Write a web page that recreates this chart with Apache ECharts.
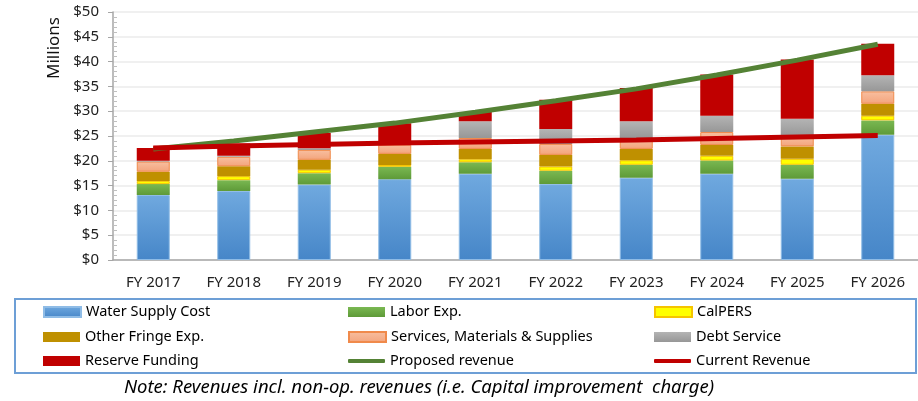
<!DOCTYPE html>
<html>
<head>
<meta charset="utf-8">
<script src="https://cdn.jsdelivr.net/npm/echarts@6/dist/echarts.min.js"></script>
<style>
html,body{margin:0;padding:0;background:#fff;}
#main{width:918px;height:401px;}
</style>
</head>
<body>
<div id="main"></div>
<script>
// categories
var years = ['FY 2017','FY 2018','FY 2019','FY 2020','FY 2021','FY 2022','FY 2023','FY 2024','FY 2025','FY 2026'];
// stacked cost pieces, $ millions
var waterSupply = [13.1, 13.9, 15.2, 16.3, 17.4, 15.3, 16.6, 17.4, 16.4, 25.25];
var laborExp    = [2.2, 2.2, 2.3, 2.5, 2.3, 2.7, 2.6, 2.65, 2.8, 2.9];
var calpers     = [0.65, 0.8, 0.7, 0.35, 0.6, 0.85, 0.9, 0.95, 1.2, 0.95];
var otherFringe = [1.85, 2.0, 2.0, 2.25, 2.1, 2.35, 2.3, 2.2, 2.5, 2.4];
var services    = [2.05, 1.9, 2.0, 1.85, 2.2, 2.2, 2.2, 2.6, 2.0, 2.5];
var debtService = [0.15, 0.2, 0.35, 0.3, 3.35, 3.0, 3.35, 3.3, 3.6, 3.25];
var reserveFund = [2.6, 2.5, 3.05, 4.0, 1.9, 5.9, 6.75, 8.3, 11.9, 6.35];
// revenue lines
var proposedRev = [22.4, 24.0, 25.8, 27.6, 29.8, 32.1, 34.5, 37.3, 40.3, 43.5];
var currentRev  = [22.6, 23.0, 23.3, 23.6, 23.8, 24.0, 24.2, 24.5, 24.8, 25.1];
// y ticks
var yMin = 0, yMax = 50, yStep = 5;

var chart = echarts.init(document.getElementById('main'));

function grad(top, bottom) {
	return new echarts.graphic.LinearGradient(0, 0, 0, 1, [
		{offset: 0, color: top},
		{offset: 1, color: bottom}
	]);
}

function barSeries(name, data, color, border) {
	return {
		name: name,
		type: 'bar',
		stack: 'cost',
		barWidth: 33,
		data: data,
		itemStyle: {
			color: color,
			borderColor: border || 'transparent',
			borderWidth: border ? 1 : 0
		}
	};
}

var font = 'Noto Sans';
var legendText = {fontFamily: font, fontSize: 14.5, color: '#000', lineHeight: 16};

// legend layout: 3 columns x 3 rows
var legendItems = [
	{name: 'Water Supply Cost', col: 0, row: 0},
	{name: 'Labor Exp.', col: 1, row: 0},
	{name: 'CalPERS', col: 2, row: 0},
	{name: 'Other Fringe Exp.', col: 0, row: 1},
	{name: 'Services, Materials & Supplies', col: 1, row: 1},
	{name: 'Debt Service', col: 2, row: 1},
	{name: 'Reserve Funding', col: 0, row: 2},
	{name: 'Proposed revenue', col: 1, row: 2, line: true},
	{name: 'Current Revenue', col: 2, row: 2, line: true}
];
var colX = [43, 348, 654];
var rowY = [304, 329, 353];
var legends = legendItems.map(function(it) {
	return {
		data: [{name: it.name, icon: it.line ? 'roundRect' : 'rect'}],
		left: colX[it.col],
		top: rowY[it.row],
		padding: 0,
		itemWidth: 37,
		itemHeight: it.line ? 4 : 10,
		itemGap: 4,
		selectedMode: false,
		textStyle: legendText
	};
});

var option = {
	backgroundColor: '#fff',
	animation: false,
	grid: {left: 113, right: 0, top: 12, bottom: 141},
	legend: legends,
	xAxis: {
		type: 'category',
		data: years,
		axisLine: {lineStyle: {color: '#a6a6a6', width: 1.5}},
		axisTick: {show: false},
		axisLabel: {fontFamily: font, fontSize: 15, color: '#222', margin: 15}
	},
	yAxis: [{
		type: 'value',
		min: yMin, max: yMax, interval: yStep,
		axisLine: {show: true, lineStyle: {color: '#a6a6a6', width: 1.5}},
		axisTick: {show: true, length: 5, lineStyle: {color: '#a6a6a6'}},
		axisLabel: {fontFamily: font, fontSize: 15, color: '#222', margin: 14,
			formatter: function(v) { return '$' + v; }},
		splitLine: {lineStyle: {color: '#ebebeb', width: 1.5}}
	}, {
		type: 'value',
		min: yMin, max: yMax, interval: yStep,
		position: 'left',
		axisLine: {show: false},
		axisTick: {show: false, inside: true},
		axisLabel: {show: false},
		splitLine: {show: false},
		minorTick: {show: true, splitNumber: 5, length: 4, lineStyle: {color: '#bfbfbf'}}
	}],
	series: [
		barSeries('Water Supply Cost', waterSupply, grad('#70a9df', '#4686c8'), '#8fbce6'),
		barSeries('Labor Exp.', laborExp, grad('#7ab852', '#5e9a38')),
		barSeries('CalPERS', calpers, '#ffff00', '#f5c400'),
		barSeries('Other Fringe Exp.', otherFringe, '#bf9000'),
		barSeries('Services, Materials & Supplies', services, grad('#f8bfa0', '#f3a47c'), '#f08a4b'),
		barSeries('Debt Service', debtService, grad('#b4b4b4', '#979797')),
		barSeries('Reserve Funding', reserveFund, '#c00000'),
		{
			name: 'Proposed revenue', type: 'line', data: proposedRev, z: 5,
			symbol: 'none', lineStyle: {color: '#548235', width: 5}, itemStyle: {color: '#548235'}
		},
		{
			name: 'Current Revenue', type: 'line', data: currentRev, z: 6,
			symbol: 'none', lineStyle: {color: '#c00000', width: 5}, itemStyle: {color: '#c00000'}
		}
	],
	graphic: [
		{
			type: 'text', x: 54, y: 48, rotation: Math.PI / 2,
			style: {text: 'Millions', fontFamily: font, fontSize: 17, fill: '#111',
				textAlign: 'center', textVerticalAlign: 'middle'}
		},
		{
			type: 'rect', shape: {x: 15, y: 299, width: 901, height: 74},
			style: {fill: 'none', stroke: '#6d9fd6', lineWidth: 2}
		},
		{
			type: 'text', x: 419, y: 388,
			style: {text: 'Note: Revenues incl. non-op. revenues (i.e. Capital improvement  charge)',
				fontFamily: font, fontSize: 18.5, fontStyle: 'italic', fill: '#000',
				textAlign: 'center', textVerticalAlign: 'middle'}
		}
	]
};

chart.setOption(option);
</script>
</body>
</html>
